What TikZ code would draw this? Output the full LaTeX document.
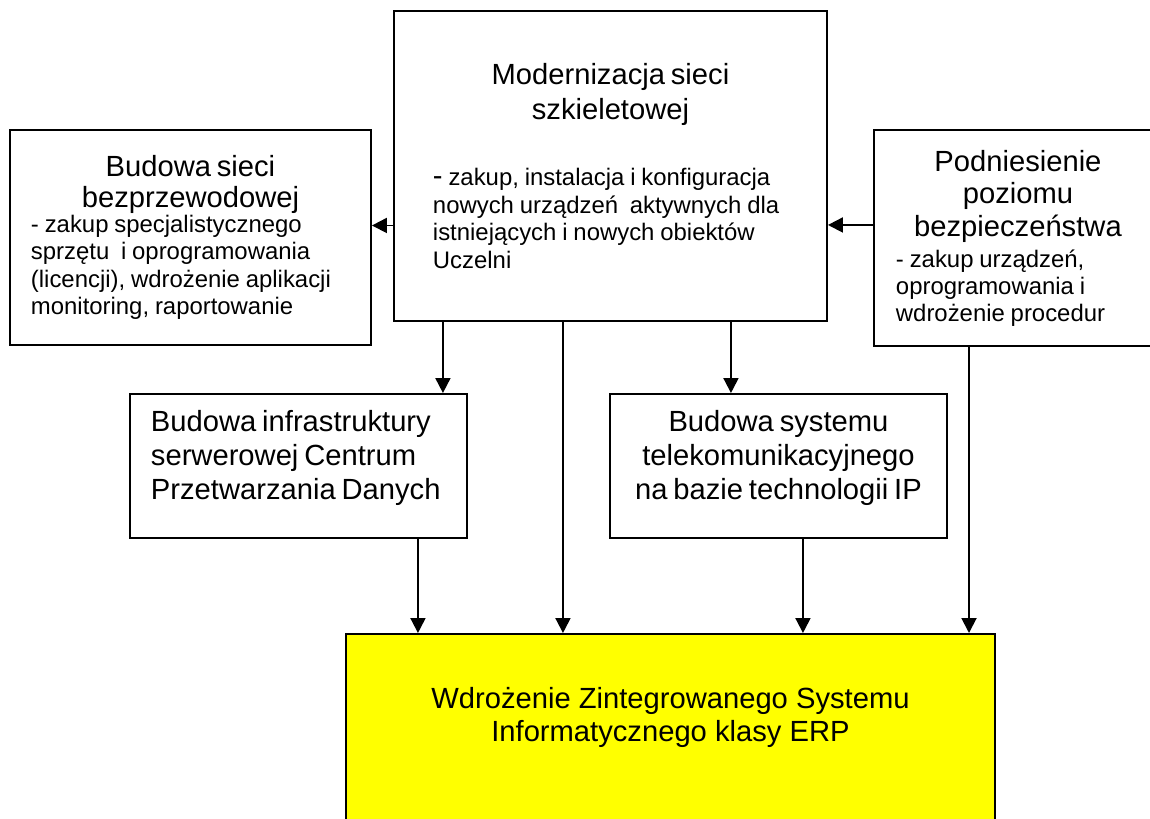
\documentclass[tikz,border=0pt]{standalone}
\usepackage{fontspec}
\setmainfont{Liberation Sans}
\usetikzlibrary{arrows.meta,positioning}

\definecolor{erpyellow}{RGB}{255,255,0}
\newcommand{\titlefont}{\fontsize{16.6pt}{20pt}\selectfont}
\newcommand{\bodyfont}{\fontsize{13.6pt}{15.7pt}\selectfont}
\newcommand{\erpfont}{\fontsize{16.6pt}{18.7pt}\selectfont}
\newcommand{\padbottom}[1]{\par\nointerlineskip\vbox to #1{}}

\tikzset{
  box/.style={draw, line width=1.1pt, anchor=north west, inner ysep=0pt},
  arr/.style={-{Triangle[length=3mm,width=3mm]}, line width=1.1pt},
}

\begin{document}
\begin{tikzpicture}
  \useasboundingbox (0,0) rectangle (23,-16.36);
  \clip (0,0) rectangle (23,-16.36);
  \node[box, minimum width=8.66cm, minimum height=6.2cm, inner xsep=0.78cm, text width=7.1cm] (mod) at (7.86,-0.2)
    {{\centering\titlefont\baselineskip=19.9pt Modernizacja sieci\\szkieletowej\par}
     \vspace{21.8pt}
     {\raggedright\bodyfont\baselineskip=15.8pt {\titlefont -} zakup, instalacja i konfiguracja\\nowych urządzeń\ \ aktywnych dla\\istniejących i nowych obiektów\\Uczelni\par}};
  \node[box, minimum width=7.22cm, minimum height=4.3cm, inner xsep=0.42cm, text width=6.38cm] (wifi) at (0.18,-2.58)
    {{\centering\titlefont\baselineskip=17.5pt Budowa sieci\\bezprzewodowej\par}
     \vspace{-1.5pt}
     {\raggedright\bodyfont\baselineskip=15.7pt - zakup specjalistycznego\\sprzętu\ \ i oprogramowania\\(licencji), wdrożenie aplikacji\\monitoring, raportowanie\par}};
  \node[box, minimum width=5.76cm, minimum height=4.32cm, inner xsep=0.44cm, text width=4.88cm] (sec) at (17.46,-2.58)
    {{\centering\titlefont\baselineskip=18.7pt Podniesienie\\poziomu\\bezpieczeństwa\par}
     \vspace{2.4pt}
     {\raggedright\bodyfont\baselineskip=15.2pt - zakup urządzeń,\\oprogramowania i\\wdrożenie procedur\par}};
  \node[box, minimum width=6.74cm, minimum height=2.88cm, inner xsep=0.42cm, text width=5.9cm] (cpd) at (2.58,-7.86)
    {{\raggedright\titlefont\baselineskip=19.3pt Budowa infrastruktury\\serwerowej Centrum\\Przetwarzania Danych\padbottom{0.32cm}}};
  \node[box, minimum width=6.74cm, minimum height=2.88cm, inner xsep=0.42cm, text width=5.9cm] (voip) at (12.18,-7.86)
    {{\centering\titlefont\baselineskip=19.3pt Budowa systemu\\telekomunikacyjnego\\na bazie technologii IP\padbottom{0.32cm}}};
  \node[box, fill=erpyellow, minimum width=12.98cm, minimum height=4.6cm] (erp) at (6.90,-12.66) {};
  \node[below=1.08cm of erp.north, inner sep=0pt, align=center, font=\erpfont] (erptxt)
    {Wdrożenie Zintegrowanego Systemu\\Informatycznego klasy ERP};
  \coordinate (wl) at ([yshift=2.4mm]wifi.east);
  \coordinate (sl) at ([yshift=2.6mm]sec.west);
  \coordinate (c1) at ([xshift=-5mm]cpd.north east);
  \coordinate (c2) at ([xshift=-9.5mm]mod.south);
  \coordinate (c3) at ([xshift=-9.5mm]voip.north);
  \coordinate (c4) at ([xshift=23.9mm]cpd.south);
  \coordinate (c5) at ([xshift=4.9mm]voip.south);
  \coordinate (c6) at ([xshift=19.2mm]sec.south west);
  \draw[arr] (mod.west |- wl) -- (wl);
  \draw[arr] (sl) -- (sl -| mod.east);
  \draw[arr] (c1 |- mod.south) -- (c1);
  \draw[arr] (c2) -- (c2 |- erp.north);
  \draw[arr] (c3 |- mod.south) -- (c3);
  \draw[arr] (c4) -- (c4 |- erp.north);
  \draw[arr] (c5) -- (c5 |- erp.north);
  \draw[arr] (c6) -- (c6 |- erp.north);
\end{tikzpicture}
\end{document}
